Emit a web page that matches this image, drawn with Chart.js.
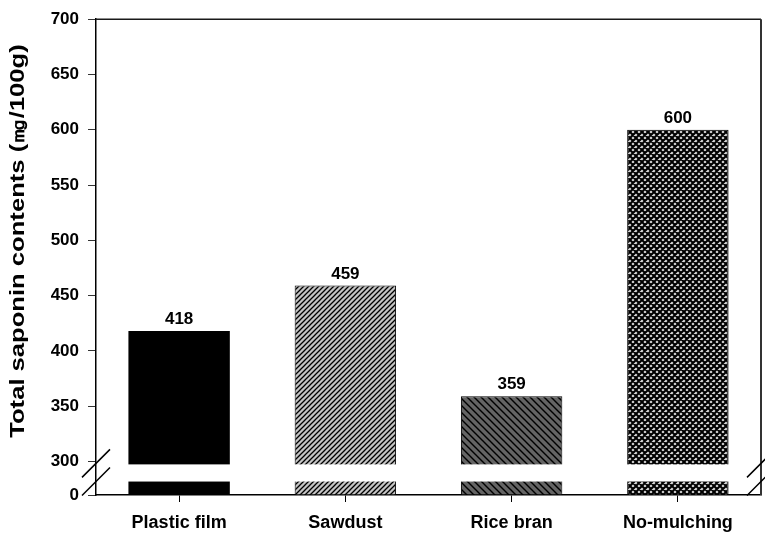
<!DOCTYPE html>
<html>
<head>
<meta charset="utf-8">
<script src="https://cdn.jsdelivr.net/npm/chart.js@4.4.1/dist/chart.umd.min.js"></script>
<style>
  html, body { margin: 0; padding: 0; background: #fff; }
  canvas { display: block; }
</style>
</head>
<body>
<canvas id="chart" width="765" height="534"></canvas>
<script>
// Total saponin contents by mulching treatment
const categories = ['Plastic film', 'Sawdust', 'Rice bran', 'No-mulching'];
const saponin = [418, 459, 359, 600];
const yTicks = [0, 300, 350, 400, 450, 500, 550, 600, 650, 700];
const yTitle = 'Total saponin contents (㎎/100g)';
const breakFrom = 0;     // the value axis is broken between these two values
const breakTo = 300;

const FONT = '"Liberation Sans", Arial, Helvetica, sans-serif';
const LOWER_SHARE = 0.0707;   // share of the axis height given to the 0–300 stretch

// Linear scale whose 0–300 stretch is squeezed into a short band at the bottom
class BrokenLinearScale extends Chart.LinearScale {
  static id = 'brokenLinear';
  static defaults = Chart.LinearScale.defaults;
  getPixelForValue(value) {
    let d;
    if (value <= breakTo) {
      d = Math.max(0, (value - breakFrom) / (breakTo - breakFrom)) * LOWER_SHARE;
    } else {
      d = LOWER_SHARE + (value - breakTo) / (this.max - breakTo) * (1 - LOWER_SHARE);
    }
    return this.getPixelForDecimal(d);
  }
  getValueForPixel(pixel) {
    const d = this.getDecimalForPixel(pixel);
    if (d <= LOWER_SHARE) return breakFrom + d / LOWER_SHARE * (breakTo - breakFrom);
    return breakTo + (d - LOWER_SHARE) / (1 - LOWER_SHARE) * (this.max - breakTo);
  }
}
Chart.register(BrokenLinearScale);

// Hatch fills
function hatch(size, bg, width, dirs) {
  const c = document.createElement('canvas');
  c.width = c.height = size;
  const g = c.getContext('2d');
  g.fillStyle = bg;
  g.fillRect(0, 0, size, size);
  g.strokeStyle = '#000';
  g.lineWidth = width;
  g.beginPath();
  for (const dir of dirs) {
    for (const o of [-size, 0, size]) {
      if (dir === '/') { g.moveTo(o - 1, size + 1); g.lineTo(o + size + 1, -1); }
      else { g.moveTo(o - 1, -1); g.lineTo(o + size + 1, size + 1); }
    }
  }
  g.stroke();
  return g.createPattern(c, 'repeat');
}
const fills = [
  '#000000',
  hatch(5, '#c4c4c4', 1.3, ['/']),
  hatch(7, '#646464', 1.4, ['\\']),
  hatch(6, '#d8d8d8', 2, ['/', '\\'])
];

// Break band, value labels, axis title, frame and axis break marks
const breakAndFrame = {
  id: 'breakAndFrame',
  gap(chart) {
    const y = chart.scales.y;
    const p0 = y.getPixelForValue(breakFrom);
    const p1 = y.getPixelForValue(breakTo);
    return { top: p1 + 0.09 * (p0 - p1), bottom: p1 + 0.6 * (p0 - p1) };
  },
  afterDatasetsDraw(chart) {
    const { ctx, chartArea: a } = chart;
    const g = this.gap(chart);
    ctx.save();
    ctx.fillStyle = '#fff';
    ctx.fillRect(a.left + 1, g.top, a.width - 2, g.bottom - g.top);

    const meta = chart.getDatasetMeta(0);
    ctx.fillStyle = '#000';
    ctx.font = 'bold 17px ' + FONT;
    ctx.textAlign = 'center';
    ctx.textBaseline = 'alphabetic';
    meta.data.forEach((bar, i) => {
      ctx.fillText(String(saponin[i]), bar.x, bar.y - 7);
    });
    ctx.restore();
  },
  afterDraw(chart) {
    const { ctx, chartArea: a } = chart;
    const g = this.gap(chart);
    ctx.save();

    // rotated value-axis title, a little widened
    ctx.save();
    ctx.translate(18, 241);
    ctx.rotate(-Math.PI / 2);
    ctx.scale(1.28, 1);
    ctx.font = 'bold 20px ' + FONT;
    ctx.fillStyle = '#000';
    ctx.textAlign = 'center';
    ctx.textBaseline = 'middle';
    ctx.fillText(yTitle, 0, 0);
    ctx.restore();

    ctx.strokeStyle = '#1a1a1a';
    ctx.lineWidth = 1.5;
    ctx.beginPath();
    ctx.moveTo(a.left, a.top);
    ctx.lineTo(a.right, a.top);
    ctx.stroke();
    ctx.strokeStyle = '#333';
    ctx.lineWidth = 2;
    ctx.beginPath();
    ctx.moveTo(a.right, a.top);
    ctx.lineTo(a.right, a.bottom);
    ctx.stroke();

    ctx.strokeStyle = '#000';
    ctx.lineWidth = 1.5;
    ctx.beginPath();
    for (const x of [a.left, a.right]) {
      for (const y of [g.top - 1, g.bottom]) {
        ctx.moveTo(x - 14, y + 14);
        ctx.lineTo(x + 14, y - 14);
      }
    }
    ctx.stroke();
    ctx.restore();
  }
};

new Chart(document.getElementById('chart'), {
  type: 'bar',
  data: {
    labels: categories,
    datasets: [{
      data: saponin,
      backgroundColor: fills,
      borderColor: '#000',
      borderWidth: [0, 1, 1, 1],
      barPercentage: 0.61,
      categoryPercentage: 1
    }]
  },
  options: {
    responsive: false,
    animation: false,
    devicePixelRatio: 1,
    layout: { padding: { top: 17, right: 4, left: 0, bottom: 0 } },
    plugins: { legend: { display: false }, tooltip: { enabled: false } },
    scales: {
      x: {
        type: 'category',
        offset: true,
        grid: { display: true, drawOnChartArea: false, offset: false, tickLength: 7, color: '#000', lineWidth: 1 },
        border: { display: true, color: '#000', width: 1.5 },
        ticks: { color: '#000', font: { family: FONT, size: 18, weight: 'bold' }, padding: 10, maxRotation: 0 },
        afterFit(s) { s.height = 39; }
      },
      y: {
        type: 'brokenLinear',
        min: 0,
        max: 700,
        afterBuildTicks(s) { s.ticks = yTicks.map(v => ({ value: v })); },
        grid: { display: true, drawOnChartArea: false, tickLength: 8, color: '#333', lineWidth: 1 },
        border: { display: true, color: '#000', width: 1.5 },
        ticks: { autoSkip: false, color: '#000', font: { family: FONT, size: 17, weight: 'bold' }, padding: 9 },
        title: { display: false },
        afterFit(s) { s.width = 96; }
      }
    }
  },
  plugins: [breakAndFrame]
});
</script>
</body>
</html>
